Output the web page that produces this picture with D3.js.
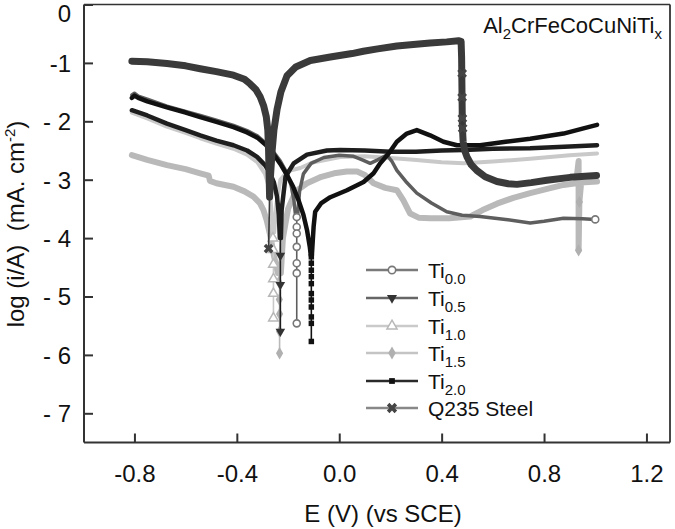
<!DOCTYPE html>
<html>
<head>
<meta charset="utf-8">
<script src="https://cdn.jsdelivr.net/npm/d3@7"></script>
<style>
  html, body { margin: 0; padding: 0; background: #fff; }
  svg { display: block; font-family: "Liberation Sans", Arial, sans-serif; }
  text { white-space: pre; }
</style>
</head>
<body>
<svg id="chart" width="675" height="529"></svg>
<script>
// ---------------- data ----------------
const xTicks = [-0.8, -0.4, 0.0, 0.4, 0.8, 1.2];
const xTickLabels = ["-0.8", "-0.4", "0.0", "0.4", "0.8", "1.2"];
const yTicks = [0, -1, -2, -3, -4, -5, -6, -7];
const yTickLabels = ["0", "-1", "- 2", "- 3", "- 4", "- 5", "- 6", "- 7"];

const legendNames = ["Ti", "Ti", "Ti", "Ti", "Ti", "Q235 Steel"];
const legendSubs = ["0.0", "0.5", "1.0", "1.5", "2.0", ""];

// [E (V), log i]
const ti15Main = [[-0.81,-2.58],[-0.75,-2.66],[-0.673,-2.75],[-0.6,-2.82],[-0.543,-2.89],[-0.51,-2.93],[-0.505,-3.02],[-0.48,-3.06],[-0.413,-3.12],[-0.37,-3.2],[-0.335,-3.29],[-0.31,-3.4],[-0.296,-3.52],[-0.283,-3.7],[-0.27,-3.95],[-0.255,-4.3],[-0.24,-4.6],
  [-0.228,-4.6],[-0.22,-4.0],[-0.2,-3.5],[-0.17,-3.2],[-0.126,-3.06],[-0.07,-2.95],[-0.02,-2.89],[0.03,-2.86],[0.07,-2.86],[0.1,-2.92],[0.134,-3.06],[0.18,-3.14],[0.225,-3.18],[0.25,-3.35],[0.277,-3.58],[0.31,-3.65],[0.355,-3.66],[0.43,-3.66],[0.512,-3.63],[0.56,-3.52],[0.616,-3.41],[0.68,-3.31],[0.746,-3.23],[0.82,-3.15],[0.876,-3.09],[0.925,-3.06],[0.935,-2.68],[0.935,-4.21],[0.938,-3.38],[0.945,-3.05],[1.007,-3.03]];
const ti15Tail = [[-0.234,-4.6],[-0.233,-4.9],[-0.233,-5.3],[-0.233,-5.97]];
const ti15Marks = [[-0.236,-4.75],[-0.234,-5.05],[-0.233,-5.3],[-0.233,-5.6],[-0.233,-5.97],[0.935,-4.21],[0.938,-3.38]];

const ti10Main = [[-0.81,-1.85],[-0.75,-1.95],[-0.673,-2.09],[-0.6,-2.2],[-0.543,-2.29],[-0.48,-2.38],[-0.413,-2.47],[-0.36,-2.57],[-0.32,-2.7],[-0.29,-2.9],[-0.273,-3.15],[-0.265,-3.5],[-0.26,-3.9],
  [-0.254,-3.9],[-0.245,-3.4],[-0.23,-3.0],[-0.2,-2.85],[-0.152,-2.8],[-0.1,-2.7],[0.004,-2.61],[0.1,-2.6],[0.2,-2.63],[0.29,-2.66],[0.4,-2.7],[0.486,-2.72],[0.6,-2.69],[0.746,-2.64],[0.9,-2.58],[1.007,-2.55]];
const ti10Tail = [[-0.258,-3.9],[-0.257,-4.5],[-0.257,-5.37]];
const ti10Marks = [[-0.259,-4.0],[-0.258,-4.2],[-0.257,-4.45],[-0.257,-4.7],[-0.257,-4.95],[-0.257,-5.37]];

const ti00Main = [[-0.81,-1.55],[-0.8,-1.52],[-0.785,-1.57],[-0.75,-1.62],[-0.673,-1.74],[-0.6,-1.83],[-0.543,-1.9],[-0.48,-1.98],[-0.413,-2.07],[-0.36,-2.16],[-0.32,-2.25],[-0.285,-2.38],[-0.257,-2.52],[-0.23,-2.68],[-0.205,-2.88],[-0.188,-3.1],[-0.177,-3.35],[-0.17,-3.64],
  [-0.163,-3.64],[-0.155,-3.2],[-0.14,-2.9],[-0.11,-2.72],[-0.06,-2.62],[0.0,-2.58],[0.056,-2.6],[0.09,-2.66],[0.121,-2.72],[0.15,-2.66],[0.186,-2.58],[0.205,-2.68],[0.225,-2.84],[0.26,-3.03],[0.303,-3.23],[0.36,-3.4],[0.42,-3.55],[0.48,-3.61],[0.55,-3.63],[0.65,-3.68],[0.746,-3.74],[0.8,-3.71],[0.876,-3.66],[0.95,-3.67],[1.0,-3.68]];
const ti00Tail = [[-0.166,-3.64],[-0.166,-5.46]];
const ti00Marks = [[-0.166,-3.64],[-0.166,-3.81],[-0.166,-3.92],[-0.166,-4.15],[-0.166,-4.43],[-0.166,-4.6],[-0.166,-5.46],[1.0,-3.68]];

const ti05Main = [[-0.81,-1.81],[-0.75,-1.9],[-0.673,-2.04],[-0.6,-2.15],[-0.543,-2.24],[-0.48,-2.33],[-0.413,-2.41],[-0.36,-2.5],[-0.321,-2.61],[-0.29,-2.75],[-0.27,-2.89],[-0.255,-3.05],[-0.243,-3.29],[-0.236,-3.6],[-0.232,-4.0],
  [-0.228,-4.0],[-0.225,-3.52],[-0.21,-2.95],[-0.178,-2.72],[-0.126,-2.57],[-0.048,-2.5],[0.004,-2.49],[0.1,-2.5],[0.2,-2.52],[0.3,-2.52],[0.4,-2.5],[0.486,-2.49],[0.6,-2.47],[0.746,-2.46],[0.9,-2.43],[1.007,-2.41]];
const ti05Tail = [[-0.23,-4.0],[-0.23,-5.6]];
const ti05Marks = [[-0.23,-4.3],[-0.23,-4.8],[-0.23,-5.6]];

const ti20Main = [[-0.81,-1.6],[-0.8,-1.56],[-0.785,-1.6],[-0.75,-1.66],[-0.673,-1.76],[-0.6,-1.85],[-0.543,-1.93],[-0.48,-2.01],[-0.413,-2.1],[-0.36,-2.19],[-0.32,-2.28],[-0.285,-2.41],[-0.257,-2.56],[-0.23,-2.73],[-0.204,-2.92],[-0.18,-3.12],[-0.16,-3.34],[-0.14,-3.6],[-0.126,-3.86],[-0.115,-4.15],[-0.111,-4.3],
  [-0.107,-4.3],[-0.1,-3.8],[-0.094,-3.55],[-0.07,-3.4],[-0.035,-3.3],[0.03,-3.18],[0.095,-3.04],[0.134,-2.89],[0.16,-2.72],[0.193,-2.55],[0.225,-2.35],[0.264,-2.21],[0.303,-2.15],[0.355,-2.24],[0.407,-2.35],[0.46,-2.41],[0.55,-2.41],[0.65,-2.35],[0.746,-2.3],[0.876,-2.21],[0.954,-2.12],[1.007,-2.06]];
const ti20Tail = [[-0.109,-4.3],[-0.109,-5.77]];
const ti20Marks = [[-0.109,-4.32],[-0.109,-4.43],[-0.109,-4.55],[-0.109,-4.66],[-0.109,-4.78],[-0.109,-4.95],[-0.109,-5.06],[-0.109,-5.18],[-0.109,-5.35],[-0.109,-5.46],[-0.109,-5.77]];

const q235Main = [[-0.81,-0.97],[-0.75,-0.98],[-0.673,-1.01],[-0.6,-1.05],[-0.543,-1.1],[-0.48,-1.15],[-0.413,-1.21],[-0.37,-1.28],[-0.348,-1.36],[-0.325,-1.46],[-0.309,-1.58],[-0.295,-1.74],[-0.285,-1.92],[-0.279,-2.15],[-0.276,-2.5],[-0.274,-2.9],[-0.272,-3.3],
  [-0.268,-2.9],[-0.262,-2.5],[-0.255,-2.15],[-0.243,-1.8],[-0.228,-1.5],[-0.204,-1.22],[-0.17,-1.07],[-0.113,-0.96],[-0.035,-0.9],[0.05,-0.84],[0.094,-0.8],[0.15,-0.76],[0.225,-0.71],[0.3,-0.68],[0.355,-0.66],[0.42,-0.64],[0.466,-0.62],[0.476,-0.63],
  [0.478,-0.9],[0.479,-1.3],[0.48,-1.7],[0.481,-2.1],[0.484,-2.35],[0.49,-2.5],[0.499,-2.61],[0.515,-2.74],[0.537,-2.84],[0.57,-2.95],[0.616,-3.03],[0.66,-3.07],[0.694,-3.08],[0.75,-3.05],[0.811,-3.01],[0.902,-2.96],[1.005,-2.93]];
const q235Tail = [[-0.272,-3.3],[-0.276,-4.18]];
const q235Marks = [[0.48,-1.18],[0.48,-1.59],[0.481,-1.95],[0.482,-2.12],[-0.276,-4.18]];

// ---------------- drawing ----------------
const svg = d3.select("#chart");
const W = 675, H = 529;
const pLeft = 84, pRight = 670, pTop = 4.5, pBottom = 442.5;

svg.append("rect").attr("width", W).attr("height", H).attr("fill", "#fff");

const x = d3.scaleLinear().domain([-0.997, 1.292]).range([pLeft, pRight]);
const y = d3.scaleLinear().domain([-7.5, 0]).range([pBottom, pTop]);

const line = d3.line().x(d => x(d[0])).y(d => y(d[1]));

const styles = {
  ti15: { color: "#b9b9b9", width: 6, mcolor: "#b0b0b0", shape: "diamond" },
  ti10: { color: "#c9c9c9", width: 4, mcolor: "#b8b8b8", shape: "triUp" },
  ti00: { color: "#5e5e5e", width: 3.5, mcolor: "#777", shape: "circle" },
  ti05: { color: "#1e1e1e", width: 4.5, mcolor: "#333", shape: "triDown" },
  ti20: { color: "#111", width: 4.5, mcolor: "#111", shape: "square" },
  q235: { color: "#3a3a3a", width: 7, mcolor: "#444", shape: "x" }
};

function drawMarker(g, shape, color, cx, cy, scale) {
  scale = scale || 1;
  if (shape === "circle") {
    g.append("circle").attr("cx", cx).attr("cy", cy).attr("r", 3.5 * scale)
      .attr("fill", "#fff").attr("stroke", color).attr("stroke-width", 1.6);
  } else if (shape === "square") {
    g.append("path").attr("d", d3.symbol(d3.symbolSquare, 30 * scale * scale)())
      .attr("transform", `translate(${cx},${cy})`).attr("fill", color);
  } else if (shape === "diamond") {
    g.append("path").attr("d", d3.symbol(d3.symbolDiamond, 45 * scale * scale)())
      .attr("transform", `translate(${cx},${cy})`).attr("fill", color);
  } else if (shape === "triUp") {
    g.append("path").attr("d", d3.symbol(d3.symbolTriangle, 40 * scale * scale)())
      .attr("transform", `translate(${cx},${cy})`).attr("fill", "#fff")
      .attr("stroke", color).attr("stroke-width", 1.5);
  } else if (shape === "triDown") {
    g.append("path").attr("d", d3.symbol(d3.symbolTriangle, 40 * scale * scale)())
      .attr("transform", `translate(${cx},${cy}) rotate(180)`).attr("fill", color);
  } else if (shape === "x") {
    g.append("path").attr("d", d3.symbol(d3.symbolCross, 60 * scale * scale)())
      .attr("transform", `translate(${cx},${cy}) rotate(45)`).attr("fill", color);
  }
}

const seriesList = [
  { key: "ti15", main: ti15Main, tail: ti15Tail, marks: ti15Marks },
  { key: "ti10", main: ti10Main, tail: ti10Tail, marks: ti10Marks },
  { key: "ti00", main: ti00Main, tail: ti00Tail, marks: ti00Marks },
  { key: "ti05", main: ti05Main, tail: ti05Tail, marks: ti05Marks },
  { key: "ti20", main: ti20Main, tail: ti20Tail, marks: ti20Marks },
  { key: "q235", main: q235Main, tail: q235Tail, marks: q235Marks }
];

const plot = svg.append("g");
seriesList.forEach(s => {
  const st = styles[s.key];
  plot.append("path").datum(s.tail).attr("d", line)
    .attr("fill", "none").attr("stroke", st.color).attr("stroke-width", 1.6);
  plot.append("path").datum(s.main).attr("d", line)
    .attr("fill", "none").attr("stroke", st.color).attr("stroke-width", st.width)
    .attr("stroke-linejoin", "round").attr("stroke-linecap", "round");
  s.marks.forEach(m => drawMarker(plot, st.shape, st.mcolor, x(m[0]), y(m[1]), 1));
});

// axes frame
const axisColor = "#333";
svg.append("line").attr("x1", pLeft).attr("x2", pRight).attr("y1", pTop).attr("y2", pTop)
  .attr("stroke", axisColor).attr("stroke-width", 1.5);
svg.append("line").attr("x1", pRight).attr("x2", pRight).attr("y1", pTop).attr("y2", pBottom)
  .attr("stroke", axisColor).attr("stroke-width", 1.8);

const xAxis = d3.axisBottom(x).tickValues(xTicks).tickSize(-9).tickFormat((d, i) => xTickLabels[i]);
const gx = svg.append("g").attr("transform", `translate(0,${pBottom})`).call(xAxis);
gx.select(".domain").attr("d", `M${pLeft},0H${pRight}`).attr("stroke", axisColor).attr("stroke-width", 2);
gx.selectAll(".tick line").attr("stroke", axisColor).attr("stroke-width", 2);
gx.selectAll(".tick text").attr("font-size", 24).attr("fill", "#111")
  .attr("font-family", "Liberation Sans, Arial, sans-serif").attr("dy", null).attr("y", 39);

const yAxis = d3.axisLeft(y).tickValues(yTicks).tickSize(-9).tickFormat((d, i) => yTickLabels[i]);
const gy = svg.append("g").attr("transform", `translate(${pLeft},0)`).call(yAxis);
gy.select(".domain").attr("d", `M0,${pTop}V${pBottom}`).attr("stroke", axisColor).attr("stroke-width", 2);
gy.selectAll(".tick line").attr("stroke", axisColor).attr("stroke-width", 2);
gy.selectAll(".tick text").attr("font-size", 24).attr("fill", "#111")
  .attr("font-family", "Liberation Sans, Arial, sans-serif").attr("x", -13).attr("dy", "0.35em");
gy.selectAll(".tick").filter(d => d === 0).select("text").attr("dy", "0.7em");

// axis titles
svg.append("text").attr("x", 383).attr("y", 522).attr("text-anchor", "middle")
  .attr("font-size", 24).attr("fill", "#111").text("E (V) (vs SCE)");

const yt = svg.append("text").attr("transform", "translate(24,224) rotate(-90)")
  .attr("text-anchor", "middle").attr("font-size", 24).attr("fill", "#111");
yt.append("tspan").text("log (i/A)  (mA. cm");
yt.append("tspan").attr("font-size", 15).attr("dy", -9).text("-2");
yt.append("tspan").attr("dy", 9).text(")");

// composition label
const cl = svg.append("text").attr("x", 662).attr("y", 33).attr("text-anchor", "end")
  .attr("font-size", 22).attr("fill", "#111");
cl.append("tspan").text("Al");
cl.append("tspan").attr("font-size", 15).attr("dy", 6).text("2");
cl.append("tspan").attr("dy", -6).text("CrFeCoCuNiTi");
cl.append("tspan").attr("font-size", 15).attr("dy", 6).text("x");

// legend
const legendY = [270, 298, 326, 353, 381, 408];
const legendKeys = ["ti00", "ti05", "ti10", "ti15", "ti20", "q235"];
const legendLineColors = { ti00: "#7a7a7a", ti05: "#666", ti10: "#cacaca", ti15: "#c4c4c4", ti20: "#2a2a2a", q235: "#888" };
const lg = svg.append("g");
legendKeys.forEach((k, i) => {
  const ly = legendY[i];
  lg.append("line").attr("x1", 366).attr("x2", 418).attr("y1", ly).attr("y2", ly)
    .attr("stroke", legendLineColors[k]).attr("stroke-width", 2.5);
  drawMarker(lg, styles[k].shape, styles[k].mcolor, 392, ly, 1.05);
  const t = lg.append("text").attr("x", 428).attr("y", ly + 8).attr("font-size", 21).attr("fill", "#111");
  t.append("tspan").text(legendNames[i]);
  if (legendSubs[i]) t.append("tspan").attr("font-size", 15).attr("dy", 6).text(legendSubs[i]);
});
</script>
</body>
</html>
